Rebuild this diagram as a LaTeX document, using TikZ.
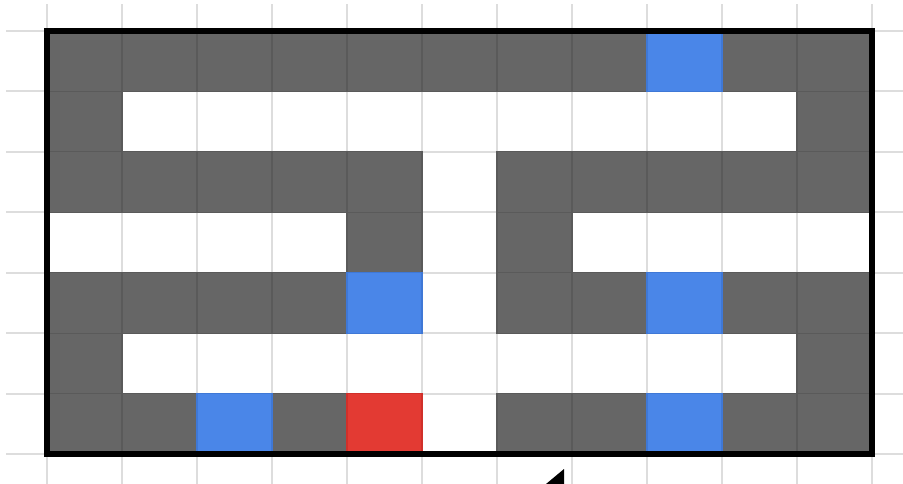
\documentclass[tikz,border=0pt]{standalone}
\definecolor{wall}{HTML}{666666}
\definecolor{walledge}{HTML}{5A5A5A}
\definecolor{goal}{HTML}{4A86E8}
\definecolor{goaledge}{HTML}{3F78D6}
\definecolor{agent}{HTML}{E33A33}
\definecolor{agentedge}{HTML}{D0302A}
\definecolor{gridc}{HTML}{DDDDDD}
\begin{document}
\begin{tikzpicture}[x=1pt,y=-1pt,
  gridline/.style={gridc,line width=2pt},
  wallcell/.style={fill=wall,draw=walledge,line width=1.2pt},
  goalcell/.style={fill=goal,draw=goaledge,line width=1.2pt},
  agentcell/.style={fill=agent,draw=agentedge,line width=1.2pt},
  frame/.style={black,line width=6pt}]
\useasboundingbox (0,0) rectangle (903,483);
\begin{scope}
\clip (0,0) rectangle (903,483);
% grid
\foreach \i in {0,...,11} \draw[gridline] ({47+75*\i},4) -- ({47+75*\i},490);
\foreach \j in {0,...,7} \draw[gridline] (6,{31+60.43*\j}) -- (910,{31+60.43*\j});
% cells
\def\cell#1#2#3{\draw[#3] ({47+75*#1},{31+60.43*#2}) rectangle ({122+75*#1},{91.43+60.43*#2});}
% row 0
\foreach \c in {0,...,7,9,10} {\cell{\c}{0}{wallcell}}
\cell{8}{0}{goalcell}
% row 1
\foreach \c in {0,10} {\cell{\c}{1}{wallcell}}
% row 2
\foreach \c in {0,...,4,6,7,8,9,10} {\cell{\c}{2}{wallcell}}
% row 3
\foreach \c in {4,6} {\cell{\c}{3}{wallcell}}
% row 4
\foreach \c in {0,...,3,6,7,9,10} {\cell{\c}{4}{wallcell}}
\cell{4}{4}{goalcell}
\cell{8}{4}{goalcell}
% row 5
\foreach \c in {0,10} {\cell{\c}{5}{wallcell}}
% row 6
\foreach \c in {0,1,3,6,7,9,10} {\cell{\c}{6}{wallcell}}
\cell{2}{6}{goalcell}
\cell{8}{6}{goalcell}
\cell{4}{6}{agentcell}
% frame
\draw[frame] (47,31) rectangle (872,454);
% arrow tip at the bottom edge
\fill[black] (546,484) -- (564,469) -- (564,484) -- cycle;
\end{scope}
\end{tikzpicture}
\end{document}
